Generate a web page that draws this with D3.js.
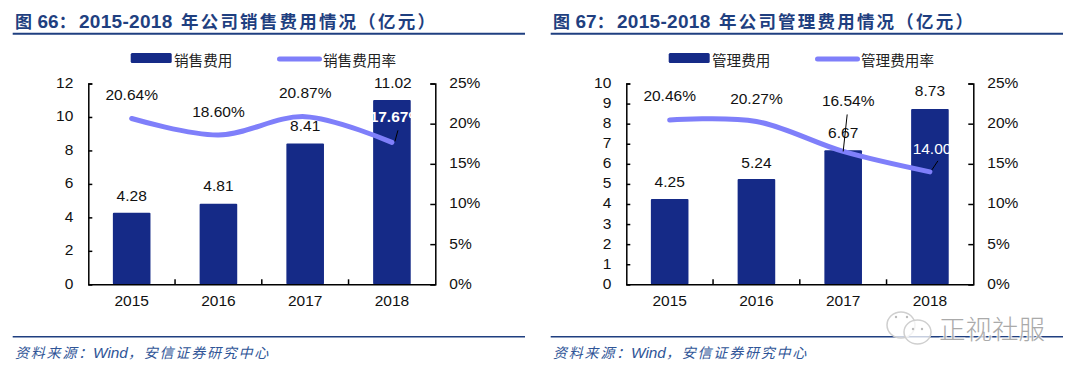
<!DOCTYPE html>
<html>
<head>
<meta charset="utf-8">
<script src="https://cdn.jsdelivr.net/npm/d3@7"></script>
<style>
  html, body { margin: 0; padding: 0; background: #fff; }
  svg { display: block; }
  text { font-family: "Liberation Sans", "Noto Sans CJK SC", sans-serif; fill: #111; }
  .domain, .tick line { stroke: #000; stroke-width: 1.5; }
</style>
</head>
<body>
<script>
const years = ['2015', '2016', '2017', '2018']
const percentTicks = [0, 5, 10, 15, 20, 25]

const salesCost = [4.28, 4.81, 8.41, 11.02]
const salesRate = [20.64, 18.60, 20.87, 17.67]
const salesTicks = [0, 2, 4, 6, 8, 10, 12]

const adminCost = [4.25, 5.24, 6.67, 8.73]
const adminRate = [20.46, 20.27, 16.54, 14.00]
const adminTicks = [0, 1, 2, 3, 4, 5, 6, 7, 8, 9, 10]

const titleColor = '#1f3f80'
const barColor = '#152a87'
const lineColor = '#7f7ffa'

const svg = d3.select('body')
  .append('svg')
  .attr('width', 1080)
  .attr('height', 378)

drawPanel(svg.append('g'), {
  number: '66',
  name: '销售',
  cost: salesCost,
  rate: salesRate,
  ticks: salesTicks,
  // label offsets from the mark they belong to
  costLabel: [[0, -16.5], [0, -17.5], [0, -17.5], [1, -17]],
  rateLabel: [[0, -23.5], [0, -23], [0, -24], [4, -25]],
  leaders: [null, null, null, [[6, -12], [3, -1]]],
  boldLast: true
})

drawPanel(svg.append('g').attr('transform', 'translate(538, 0)'), {
  number: '67',
  name: '管理',
  cost: adminCost,
  rate: adminRate,
  ticks: adminTicks,
  costLabel: [[0, -17], [0, -16.5], [0, -17], [0, -18]],
  rateLabel: [[0, -23.5], [0, -22], [5, -50], [9, -23]],
  leaders: [null, null, [[4, -37], [0, 0]], [[8, -11], [2, -2]]],
  boldLast: false
})

drawWatermark(svg.append('g'))

function drawPanel (root, cfg) {
  const left = 88.3
  const right = 435.3
  const top = 83.5
  const bottom = 284.3

  const x = d3.scaleBand().domain(years).range([left, right])
  const yCost = d3.scaleLinear()
    .domain([0, d3.max(cfg.ticks)])
    .range([bottom, top])
  const yRate = d3.scaleLinear().domain([0, 25]).range([bottom, top])

  // header and footer
  const title = root.append('text')
    .attr('y', 28)
    .style('font-size', '19px')
    .style('font-weight', 700)
    .style('fill', titleColor)
  title.append('tspan').attr('x', 15).style('font-size', '17px').text('图')
  title.append('tspan').attr('x', 37.5).text(cfg.number)
  title.append('tspan').style('font-size', '17px').text('\uFF1A')
  title.append('tspan').attr('x', 79).style('letter-spacing', '0.3px').text('2015-2018')
  title.append('tspan').attr('x', 181)
    .style('letter-spacing', '2.2px')
    .style('font-size', '17.5px')
    .text(`年公司${cfg.name}费用情况\uFF08亿元\uFF09`)

  root.append('line')
    .attr('x1', 12.7).attr('x2', 525).attr('y1', 33.8).attr('y2', 33.8)
    .style('stroke', titleColor)
    .style('stroke-width', 2)

  root.append('line')
    .attr('x1', 12.7).attr('x2', 525).attr('y1', 336.7).attr('y2', 336.7)
    .style('stroke', titleColor)
    .style('stroke-width', 1.4)

  const source = root.append('text')
    .attr('y', 358)
    .style('font-size', '14px')
    .style('font-style', 'italic')
    .style('fill', '#2f5597')
  source.append('tspan').attr('x', 15).style('letter-spacing', '1.8px').text('资料来源\uFF1A')
  source.append('tspan').attr('x', 93).style('font-size', '15.4px').text('Wind')
  source.append('tspan').style('letter-spacing', '1.8px').text('\uFF0C安信证券研究中心')

  // legend
  root.append('rect')
    .attr('x', 130.7).attr('y', 53).attr('width', 41).attr('height', 10).attr('rx', 1.5)
    .style('fill', barColor)
  root.append('text')
    .attr('x', 174).attr('y', 66)
    .style('font-size', '14.6px')
    .style('fill', '#222')
    .text(`${cfg.name}费用`)
  root.append('line')
    .attr('x1', 279.5).attr('x2', 319.5).attr('y1', 59).attr('y2', 59)
    .style('stroke', lineColor)
    .style('stroke-width', 5)
    .style('stroke-linecap', 'round')
  root.append('text')
    .attr('x', 323).attr('y', 66)
    .style('font-size', '14.6px')
    .style('fill', '#222')
    .text(`${cfg.name}费用率`)

  // bars
  const barWidth = 37.6
  root.append('g')
    .selectAll('rect')
    .data(cfg.cost)
    .join('rect')
    .attr('x', (d, i) => x(years[i]) + x.bandwidth() / 2 - barWidth / 2)
    .attr('y', d => yCost(d))
    .attr('width', barWidth)
    .attr('height', d => bottom - yCost(d))
    .attr('rx', 1)
    .style('fill', barColor)

  // axes
  const xAxis = root.append('g')
    .attr('transform', `translate(0, ${bottom})`)
    .call(d3.axisBottom(x).tickSize(0).tickPadding(11))
  xAxis.selectAll('text').style('font-size', '15.5px')

  root.append('g')
    .selectAll('line')
    .data(years.slice(1))
    .join('line')
    .attr('x1', d => x(d))
    .attr('x2', d => x(d))
    .attr('y1', bottom)
    .attr('y2', bottom - 5)
    .style('stroke', '#000')
    .style('stroke-width', 1.5)

  const costAxis = root.append('g')
    .attr('transform', `translate(${left}, 0)`)
    .call(d3.axisLeft(yCost).tickValues(cfg.ticks).tickSize(-4).tickPadding(15))
  costAxis.selectAll('text').style('font-size', '15.5px').attr('y', -1)

  const rateAxis = root.append('g')
    .attr('transform', `translate(${right}, 0)`)
    .call(d3.axisRight(yRate).tickValues(percentTicks).tickSize(-5).tickPadding(14).tickFormat(d => d + '%'))
  rateAxis.selectAll('text').style('font-size', '15.5px').attr('y', -1)

  // rate line
  const px = i => x(years[i]) + x.bandwidth() / 2
  const line = d3.line()
    .x((d, i) => px(i))
    .y(d => yRate(d))
    .curve(d3.curveCatmullRom.alpha(0))

  root.append('path')
    .attr('d', line(cfg.rate))
    .style('fill', 'none')
    .style('stroke', lineColor)
    .style('stroke-width', 5)
    .style('stroke-linecap', 'round')

  // data labels
  root.append('g')
    .selectAll('text')
    .data(cfg.cost)
    .join('text')
    .attr('x', (d, i) => px(i) + cfg.costLabel[i][0])
    .attr('y', (d, i) => yCost(d) + cfg.costLabel[i][1] + 5)
    .attr('text-anchor', 'middle')
    .style('font-size', '15.5px')
    .text(d => d.toFixed(2))

  root.append('g')
    .selectAll('text')
    .data(cfg.rate)
    .join('text')
    .attr('x', (d, i) => px(i) + cfg.rateLabel[i][0])
    .attr('y', (d, i) => yRate(d) + cfg.rateLabel[i][1] + 5)
    .attr('text-anchor', 'middle')
    .style('font-size', '15.5px')
    .style('fill', (d, i) => i === 3 ? '#fff' : '#111')
    .style('font-weight', (d, i) => i === 3 && cfg.boldLast ? 700 : 400)
    .text(d => d.toFixed(2) + '%')

  // leader lines from moved labels back to their points
  cfg.leaders.forEach((leader, i) => {
    if (!leader) return
    root.append('line')
      .attr('x1', px(i) + leader[0][0])
      .attr('y1', yRate(cfg.rate[i]) + leader[0][1])
      .attr('x2', px(i) + leader[1][0])
      .attr('y2', yRate(cfg.rate[i]) + leader[1][1])
      .style('stroke', '#000')
      .style('stroke-width', 1)
  })
}

function drawWatermark (root) {
  const bubble = (cx, cy, rx, ry) => {
    root.append('ellipse')
      .attr('cx', cx).attr('cy', cy).attr('rx', rx).attr('ry', ry)
      .style('fill', '#fff')
      .style('fill-opacity', 0.75)
      .style('stroke', '#cfcfcf')
      .style('stroke-width', 1.5)
  }
  bubble(901, 325, 14, 13)
  bubble(917.5, 332, 13.5, 12)
  root.selectAll('circle')
    .data([[896, 317], [907, 317], [913, 329], [922, 329]])
    .join('circle')
    .attr('cx', d => d[0])
    .attr('cy', d => d[1])
    .attr('r', 1.2)
    .style('fill', '#bbb')

  root.append('text')
    .attr('x', 939)
    .attr('y', 339)
    .style('font-size', '26.5px')
    .style('font-weight', 300)
    .style('fill', '#aaa')
    .style('stroke', '#fff')
    .style('stroke-opacity', 0.75)
    .style('stroke-width', 2.5)
    .style('paint-order', 'stroke')
    .text('正视社服')
}
</script>
</body>
</html>
